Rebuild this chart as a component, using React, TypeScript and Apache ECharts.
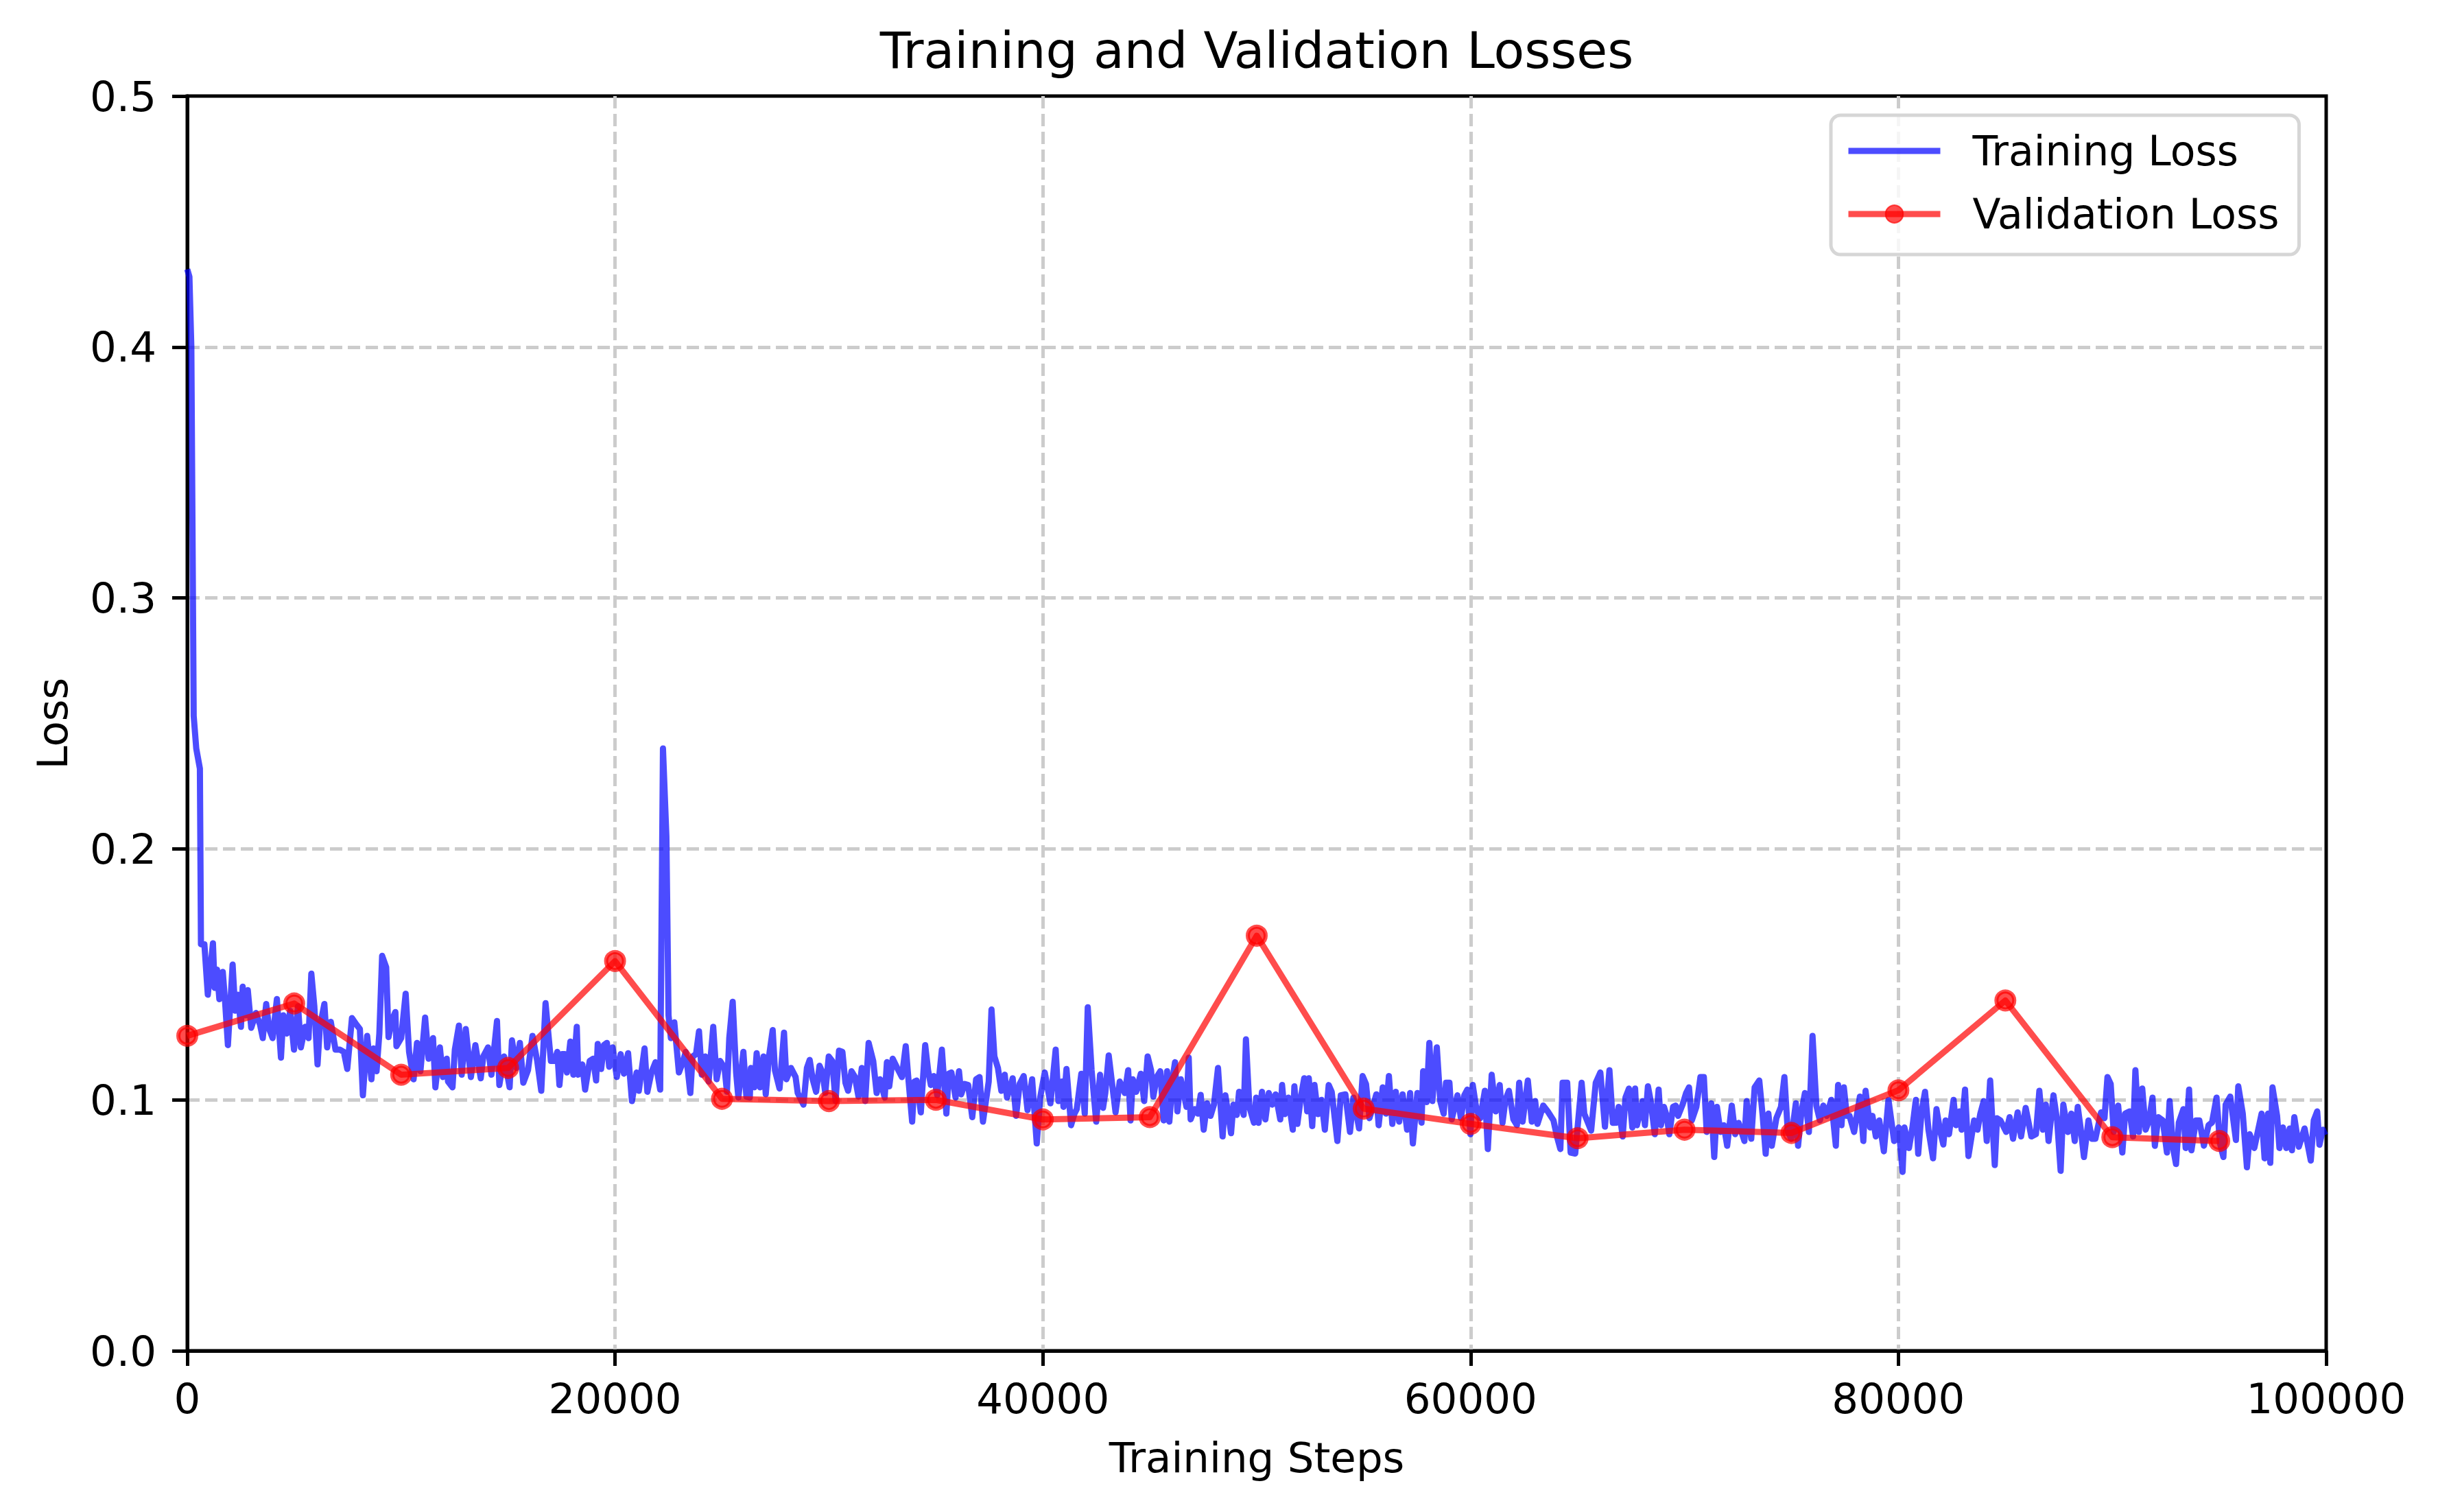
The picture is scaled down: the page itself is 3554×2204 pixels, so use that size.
import React, { useEffect, useRef } from "react";
import * as echarts from "echarts";

const chartTitle = "Training and Validation Losses";
const xAxisName = "Training Steps";
const yAxisName = "Loss";
const seriesNames = ["Training Loss", "Validation Loss"];

// [step, loss]
const trainingLoss: [number, number][] = [
  [0, 0.431], [100, 0.428], [190, 0.4], [300, 0.253], [420, 0.24], [590, 0.232], [640, 0.162],
  [800, 0.162], [960, 0.1419], [1200, 0.1624], [1280, 0.1446], [1390, 0.1519], [1500, 0.1401], [1660, 0.151], [1760, 0.1401], [1900, 0.1218], [2120, 0.1539], [2240, 0.1355], [2370, 0.1419], [2510, 0.1291], [2590, 0.1451], [2730, 0.1337], [2830, 0.1437], [2990, 0.1287], [3210, 0.1346], [3400, 0.13], [3530, 0.1246], [3690, 0.1382], [3830, 0.1282], [3990, 0.1246], [4190, 0.1402], [4380, 0.1168], [4490, 0.1337], [4650, 0.1264], [4810, 0.1355], [4990, 0.12], [5180, 0.1373], [5310, 0.1209], [5510, 0.1291], [5670, 0.1246], [5800, 0.1503], [5940, 0.1373], [6090, 0.1141], [6200, 0.1291], [6410, 0.1382], [6540, 0.1209], [6710, 0.1311], [6930, 0.12], [7140, 0.12], [7320, 0.1191], [7480, 0.1123], [7700, 0.1326], [7910, 0.13], [8070, 0.1282], [8210, 0.1018], [8410, 0.1255], [8610, 0.1082], [8710, 0.1205], [8850, 0.1114], [8980, 0.1264], [9110, 0.1574], [9300, 0.1528], [9410, 0.125], [9570, 0.1319], [9730, 0.135], [9780, 0.1214], [10000, 0.1246], [10210, 0.1423], [10370, 0.1191], [10580, 0.1082], [10740, 0.1227], [10900, 0.1114], [11120, 0.1328], [11280, 0.1164], [11490, 0.1246], [11600, 0.105], [11810, 0.1209], [11950, 0.1091], [12130, 0.1164], [12190, 0.1073], [12400, 0.105], [12510, 0.12], [12700, 0.1296], [12830, 0.11], [13020, 0.1282], [13260, 0.1091], [13470, 0.1218], [13720, 0.1086], [13840, 0.1173], [14060, 0.1209], [14220, 0.11], [14480, 0.1314], [14590, 0.1059], [14810, 0.1173], [15070, 0.105], [15180, 0.1237], [15390, 0.1127], [15550, 0.1227], [15710, 0.1068], [15930, 0.1118], [16140, 0.1255], [16360, 0.1155], [16550, 0.1036], [16750, 0.1385],
  [17000, 0.1155], [17160, 0.1155], [17300, 0.1191], [17400, 0.1059], [17530, 0.1182], [17640, 0.1182], [17750, 0.1109], [17910, 0.1232], [18050, 0.11], [18210, 0.1291], [18280, 0.11], [18470, 0.1141], [18600, 0.1041], [18815, 0.1155], [18975, 0.1164], [19115, 0.1077], [19190, 0.1223], [19350, 0.1123], [19480, 0.1218], [19620, 0.1227], [19725, 0.1132], [19885, 0.1209], [20080, 0.1091], [20260, 0.1182], [20420, 0.1104], [20610, 0.1186], [20790, 0.0995], [21010, 0.1109], [21110, 0.1036], [21380, 0.1205], [21510, 0.1032], [21700, 0.1109], [21890, 0.115], [22110, 0.1041], [22240, 0.24], [22400, 0.205], [22500, 0.1337], [22610, 0.1246], [22770, 0.1309], [22985, 0.1109], [23145, 0.1145], [23305, 0.1191], [23520, 0.1027], [23625, 0.1173], [23785, 0.1182], [23925, 0.1273], [24055, 0.11], [24215, 0.1173], [24375, 0.1073], [24590, 0.1291], [24750, 0.1082], [24910, 0.1155], [25120, 0.1127], [25230, 0.1032], [25340, 0.1246], [25500, 0.1391], [25660, 0.1109], [25765, 0.1009], [26000, 0.1191], [26140, 0.1013], [26300, 0.1009], [26350, 0.1127], [26510, 0.105], [26620, 0.1186], [26780, 0.105], [26940, 0.1173], [27045, 0.1022], [27205, 0.1177], [27370, 0.1278], [27475, 0.1118], [27690, 0.1045], [27900, 0.1268], [28010, 0.1082], [28225, 0.1127], [28440, 0.1091], [28540, 0.1027], [28810, 0.0981], [28970, 0.1127], [29100, 0.1159], [29240, 0.1082], [29400, 0.1032], [29560, 0.1136], [29700, 0.1109], [29830, 0.1027], [29990, 0.1173], [30150, 0.1155], [30310, 0.0995], [30470, 0.1196], [30630, 0.1191], [30770, 0.1068], [30895, 0.1036], [31055, 0.1114], [31215, 0.1091], [31380, 0.1013], [31535, 0.1127], [31695, 0.0995], [31855, 0.1227], [32070, 0.1155], [32230, 0.1027], [32390, 0.1082], [32605, 0.1009], [32710, 0.115], [32820, 0.1054], [32980, 0.1164], [33190, 0.1127],
  [33410, 0.1091], [33590, 0.1214], [33730, 0.1068], [33890, 0.0913], [33995, 0.1073], [34100, 0.1077], [34295, 0.095], [34500, 0.1218], [34635, 0.1118], [34765, 0.1059], [34905, 0.1095], [35065, 0.1018], [35280, 0.12], [35490, 0.0945], [35600, 0.1104], [35725, 0.1109], [35920, 0.1009], [36080, 0.1114], [36185, 0.1022], [36345, 0.1063], [36510, 0.1059], [36700, 0.0931], [36880, 0.1082], [37040, 0.1091], [37200, 0.0913], [37470, 0.1073], [37600, 0.136], [37735, 0.1173], [37900, 0.1127], [38060, 0.1036], [38220, 0.11], [38325, 0.1009], [38590, 0.1086], [38750, 0.0936], [38915, 0.1063], [39105, 0.1095], [39285, 0.0959], [39500, 0.1082], [39715, 0.0826], [39875, 0.1009], [40090, 0.1109], [40355, 0.0986], [40600, 0.12], [40730, 0.0995], [40890, 0.1073], [40965, 0.0972], [41105, 0.1123], [41320, 0.0899], [41480, 0.0945], [41585, 0.0963], [41800, 0.1104], [41960, 0.0945], [42100, 0.1369], [42280, 0.1118], [42495, 0.0913], [42675, 0.11], [42815, 0.0968], [42920, 0.1027], [43080, 0.1177], [43240, 0.1063], [43400, 0.095], [43595, 0.1073], [43830, 0.1027], [43990, 0.1118], [44100, 0.0918], [44205, 0.1082], [44365, 0.1032], [44580, 0.1104], [44740, 0.0995], [44900, 0.1173], [45060, 0.1118], [45165, 0.1013], [45325, 0.1091], [45490, 0.1114], [45650, 0.0918], [45810, 0.1114], [45915, 0.0913], [46075, 0.1091], [46180, 0.115], [46290, 0.0954], [46450, 0.1082], [46715, 0.0972], [46820, 0.1168], [46910, 0.0922], [47090, 0.0963], [47250, 0.0945], [47380, 0.102], [47520, 0.0881], [47680, 0.0986], [47840, 0.0936], [48000, 0.0981], [48190, 0.1127], [48405, 0.0854], [48535, 0.1018], [48800, 0.0867], [48910, 0.0981], [49070, 0.094], [49175, 0.1032], [49390, 0.094], [49495, 0.1241], [49655, 0.0972], [49870, 0.0909], [49975, 0.1009],
  [50085, 0.0908], [50245, 0.1032], [50405, 0.0922], [50565, 0.1027], [50725, 0.0981], [50885, 0.1022], [51100, 0.0922], [51185, 0.1059], [51310, 0.0943], [51475, 0.1009], [51685, 0.0881], [51760, 0.1054], [51900, 0.0904], [52060, 0.1009], [52220, 0.1086], [52360, 0.0954], [52435, 0.1086], [52595, 0.0895], [52700, 0.1059], [52860, 0.0943], [53025, 0.1], [53185, 0.0881], [53365, 0.1059], [53505, 0.1032], [53770, 0.0836], [53930, 0.1018], [54145, 0.1022], [54360, 0.0872], [54520, 0.1009], [54785, 0.0886], [54950, 0.1095], [55110, 0.1063], [55270, 0.0927], [55430, 0.0972], [55590, 0.1022], [55700, 0.0899], [55890, 0.105], [56040, 0.0945], [56180, 0.1095], [56340, 0.0904], [56500, 0.1032], [56660, 0.0913], [56820, 0.1022], [57030, 0.0881], [57170, 0.1027], [57300, 0.0826], [57510, 0.1027], [57705, 0.0909], [57780, 0.1114], [57940, 0.0991], [58070, 0.1227], [58210, 0.0995], [58420, 0.1209], [58580, 0.0995], [58740, 0.0945], [58850, 0.1068], [59010, 0.1068], [59115, 0.0922], [59385, 0.1018], [59545, 0.0927], [59705, 0.1018], [59845, 0.1041], [59990, 0.0863], [60100, 0.1059], [60270, 0.0963], [60450, 0.0927], [60665, 0.1036], [60805, 0.0804], [60985, 0.11], [61170, 0.0954], [61360, 0.1059], [61490, 0.0908], [61630, 0.1], [61790, 0.1036], [62000, 0.0922], [62165, 0.0899], [62270, 0.1068], [62430, 0.0913], [62675, 0.1077], [62860, 0.0913], [63020, 0.0995], [63125, 0.0904], [63395, 0.0977], [63605, 0.0954], [63875, 0.0918], [64035, 0.0854], [64195, 0.0804], [64300, 0.1068], [64515, 0.1068], [64675, 0.079], [64890, 0.0786], [65190, 0.1068], [65315, 0.0945], [65635, 0.0877], [65850, 0.1068], [66065, 0.1109], [66280, 0.0893], [66490, 0.1118], [66650, 0.0908],
  [66810, 0.0909], [66920, 0.0972], [67110, 0.0854], [67240, 0.1009], [67400, 0.1045], [67560, 0.089], [67690, 0.1045], [67775, 0.0899], [67880, 0.0936], [68040, 0.0995], [68150, 0.0899], [68290, 0.1054], [68420, 0.0995], [68610, 0.0863], [68790, 0.1041], [68900, 0.0899], [69040, 0.0972], [69165, 0.0936], [69290, 0.0863], [69465, 0.0972], [69590, 0.0977], [69700, 0.0936], [69910, 0.0981], [70075, 0.1027], [70210, 0.105], [70340, 0.0918], [70555, 0.0972], [70745, 0.1091], [70905, 0.1091], [71035, 0.0872], [71250, 0.0986], [71390, 0.0772], [71515, 0.0972], [71680, 0.0872], [71835, 0.0899], [71995, 0.0817], [72210, 0.0977], [72370, 0.0863], [72530, 0.0908], [72800, 0.0836], [72905, 0.0995], [73120, 0.0845], [73280, 0.105], [73495, 0.1077], [73655, 0.0936], [73795, 0.0785], [73920, 0.0945], [74080, 0.0817], [74295, 0.0927], [74510, 0.0972], [74670, 0.1091], [74830, 0.0872], [74990, 0.0845], [75205, 0.0986], [75310, 0.0817], [75470, 0.0954], [75630, 0.1027], [75815, 0.0872], [75985, 0.1255], [76165, 0.0977], [76330, 0.0918], [76490, 0.0977], [76650, 0.0936], [76860, 0.1], [77075, 0.0817], [77180, 0.1059], [77340, 0.0899], [77450, 0.105], [77590, 0.0936], [77715, 0.0936], [77930, 0.0872], [78200, 0.1013], [78360, 0.0836], [78465, 0.1036], [78680, 0.089], [78785, 0.0936], [78945, 0.0854], [79105, 0.0918], [79320, 0.0795], [79535, 0.1], [79800, 0.0836], [80015, 0.089], [80195, 0.0713], [80280, 0.089], [80495, 0.0808], [80655, 0.089], [80815, 0.1], [80925, 0.0785], [81085, 0.0954], [81245, 0.1032], [81405, 0.0881], [81620, 0.0767], [81780, 0.0963], [81940, 0.0881], [82100, 0.0822], [82205, 0.0918], [82365, 0.0863], [82580, 0.1], [82690, 0.0899], [82850, 0.0954], [82955, 0.0881], [83115, 0.1041], [83275, 0.0776],
  [83540, 0.0918], [83700, 0.0881], [83830, 0.0945], [83990, 0.0995], [84130, 0.0836], [84290, 0.1077], [84505, 0.074], [84610, 0.0927], [84770, 0.0918], [85040, 0.0872], [85200, 0.0931], [85360, 0.0845], [85575, 0.095], [85735, 0.0854], [85950, 0.0968], [86215, 0.0854], [86430, 0.0863], [86590, 0.1036], [86750, 0.0881], [86890, 0.0981], [87020, 0.0836], [87250, 0.1018], [87420, 0.0918], [87585, 0.0717], [87710, 0.0981], [87925, 0.0872], [88085, 0.0945], [88245, 0.0836], [88385, 0.0972], [88515, 0.089], [88675, 0.0772], [88885, 0.0918], [89050, 0.0845], [89210, 0.0845], [89475, 0.095], [89635, 0.0927], [89775, 0.1091], [89925, 0.1063], [90065, 0.0872], [90275, 0.0977], [90470, 0.079], [90600, 0.0945], [90810, 0.0954], [90970, 0.0854], [91080, 0.1118], [91240, 0.0872], [91400, 0.1045], [91560, 0.0881], [91720, 0.0918], [91880, 0.1009], [91990, 0.0817], [92150, 0.0931], [92360, 0.0918], [92555, 0.079], [92680, 0.0995], [92840, 0.0808], [92980, 0.0744], [93110, 0.0909], [93325, 0.0963], [93430, 0.0808], [93590, 0.1041], [93700, 0.0799], [93910, 0.0918], [94070, 0.0918], [94285, 0.0817], [94500, 0.0899], [94660, 0.0909], [94875, 0.1009], [95035, 0.0826], [95195, 0.0772], [95300, 0.0981], [95515, 0.1013], [95780, 0.084], [95890, 0.1054], [96100, 0.0945], [96295, 0.0731], [96425, 0.0863], [96640, 0.0808], [96800, 0.0872], [96980, 0.0945], [97120, 0.0767], [97280, 0.0945], [97385, 0.0749], [97490, 0.105], [97705, 0.0936], [97815, 0.0808], [97975, 0.089], [98135, 0.0808], [98295, 0.0886], [98400, 0.0799], [98510, 0.0931], [98720, 0.0813], [98990, 0.0886], [99280, 0.0758], [99420, 0.0918], [99580, 0.0954], [99685, 0.0821], [99845, 0.0881], [99950, 0.086],
];

const validationSteps = [0, 5000, 10000, 15000, 20000, 25000, 30000, 35000, 40000, 45000, 50000, 55000, 60000, 65000, 70000, 75000, 80000, 85000, 90000, 95000];
const validationLoss = [0.1255, 0.1384, 0.11, 0.1127, 0.1553, 0.1004, 0.0995, 0.1, 0.0922, 0.0931, 0.1654, 0.0965, 0.0904, 0.0847, 0.0881, 0.0868, 0.1038, 0.1396, 0.0851, 0.0836];

const FONT = "DejaVu Sans";

export default function App() {
  const ref = useRef<HTMLDivElement>(null);
  useEffect(() => {
    const chart = echarts.init(ref.current!, null, { renderer: "svg" });
    const gridLine = {
      show: true,
      showMinLine: false,
      showMaxLine: false,
      lineStyle: { color: "#cccccc", width: 5, type: [18, 8] },
    };
    const axisLine = { show: true, onZero: false, lineStyle: { color: "#000", width: 5 } };
    const axisTick = { show: true, inside: false, length: 22, lineStyle: { color: "#000", width: 5 } };
    chart.setOption({
      animation: false,
      backgroundColor: "#ffffff",
      textStyle: { fontFamily: FONT },
      title: {
        text: chartTitle,
        left: 1832,
        top: 37,
        textAlign: "center",
        padding: 0,
        textStyle: { fontFamily: FONT, fontSize: 73, fontWeight: "normal", color: "#000", lineHeight: 73 },
      },
      grid: { left: 273, top: 140, width: 3118, height: 1829, show: true, borderColor: "#000", borderWidth: 5, backgroundColor: "transparent" },
      legend: {
        orient: "vertical",
        left: 2669,
        top: 168,
        padding: [22, 29, 29, 21],
        itemWidth: 134,
        itemHeight: 32,
        itemGap: 32,
        backgroundColor: "rgba(255,255,255,0.8)",
        borderColor: "#d6d6d6",
        borderWidth: 5,
        borderRadius: 14,
        lineStyle: { width: 9 },
        textStyle: { fontFamily: FONT, fontSize: 60, color: "#000", lineHeight: 60, padding: [0, 0, 0, 42] },
        data: [
          { name: seriesNames[0], itemStyle: { opacity: 0 } },
          { name: seriesNames[1] },
        ],
      },
      xAxis: {
        type: "value",
        min: 0,
        max: 100000,
        interval: 20000,
        name: xAxisName,
        nameLocation: "middle",
        nameGap: 125,
        nameTextStyle: { fontFamily: FONT, fontSize: 61, color: "#000", lineHeight: 61 },
        axisLine,
        axisTick,
        axisLabel: { fontFamily: FONT, fontSize: 61, color: "#000", margin: 39, lineHeight: 61, formatter: (v: number) => String(v) },
        splitLine: gridLine,
      },
      yAxis: {
        type: "value",
        min: 0,
        max: 0.5,
        interval: 0.1,
        name: yAxisName,
        nameLocation: "middle",
        nameGap: 166,
        nameTextStyle: { fontFamily: FONT, fontSize: 61, color: "#000", lineHeight: 61 },
        axisLine,
        axisTick,
        axisLabel: { fontFamily: FONT, fontSize: 61, color: "#000", margin: 45, formatter: (v: number) => v.toFixed(1) },
        splitLine: gridLine,
      },
      series: [
        {
          name: seriesNames[0],
          type: "line",
          data: trainingLoss,
          symbol: "none",
          clip: true,
          z: 2,
          lineStyle: { color: "rgba(0,0,255,0.7)", width: 9, join: "round" },
          itemStyle: { color: "rgba(0,0,255,0.7)" },
        },
        {
          name: seriesNames[1],
          type: "line",
          data: validationSteps.map((s, i) => [s, validationLoss[i]]),
          symbol: "circle",
          symbolSize: 26,
          showSymbol: true,
          clip: true,
          z: 3,
          lineStyle: { color: "rgba(255,0,0,0.7)", width: 9, join: "round" },
          itemStyle: { color: "rgba(255,0,0,0.7)", borderColor: "rgba(255,0,0,0.7)", borderWidth: 6 },
        },
      ],
    });
    return () => chart.dispose();
  }, []);
  return (
    <div
      ref={ref}
      style={{ position: "fixed", left: 0, top: 0, width: 3554, height: 2204, background: "#fff" }}
    />
  );
}
